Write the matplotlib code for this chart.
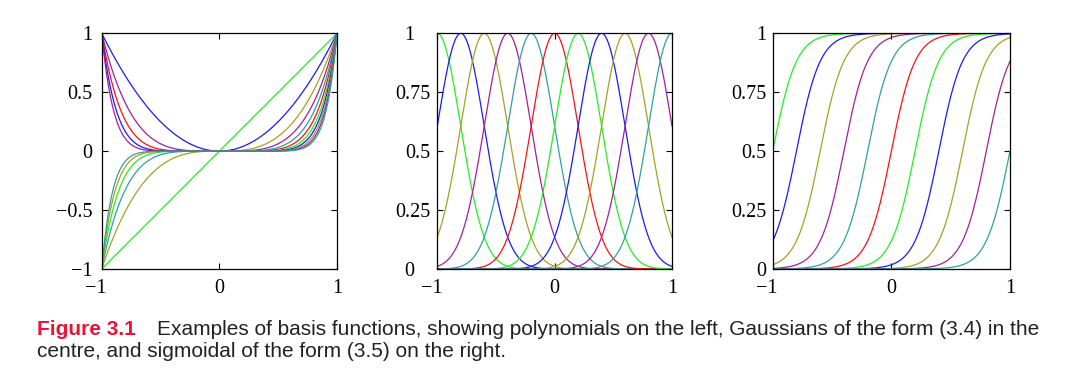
import numpy as np
import matplotlib
matplotlib.use("Agg")
import matplotlib.pyplot as plt
from matplotlib.transforms import ScaledTranslation

# ---- data (basis-function parameters) ----
poly_powers = [1, 2, 3, 4, 5, 6, 7, 8, 9, 10, 11]
gauss_centres = [-1.0, -0.8, -0.6, -0.4, -0.2, 0.0, 0.2, 0.4, 0.6, 0.8, 1.0]
gauss_width = 0.2
sigm_centres = [-1.0, -0.8, -0.6, -0.4, -0.2, 0.0, 0.2, 0.4, 0.6, 0.8, 1.0]
sigm_scale = 0.1

poly_yticks = [-1, -0.5, 0, 0.5, 1]
poly_ylabels = ["\u22121", "\u22120.5", "0", "0.5", "1"]
unit_yticks = [0, 0.25, 0.5, 0.75, 1]
unit_ylabels = ["0", "0.25", "0.5", "0.75", "1"]
xticks = [-1, 0, 1]
xlabels = ["\u22121", "0", "1"]

caption_head = "Figure 3.1"
caption_line1 = "Examples of basis functions, showing polynomials on the left, Gaussians of the form (3.4) in the"
caption_line2 = "centre, and sigmoidal of the form (3.5) on the right."

colours = ["#22ee22", "#1a1aff", "#a8a020", "#a020a0", "#30a0a0", "#ff1010"]

x = np.linspace(-1, 1, 801)

fig = plt.figure(figsize=(10.84, 3.79), dpi=100)
W, H = 1084.0, 379.0

def add_ax(left_px, right_px, top_px=33.3, bottom_px=269.0):
    return fig.add_axes([left_px / W, 1 - bottom_px / H,
                         (right_px - left_px) / W, (bottom_px - top_px) / H])

axes = [add_ax(101.7, 337.0), add_ax(437.3, 672.0), add_ax(772.7, 1010.0)]

for i, p in enumerate(poly_powers):
    axes[0].plot(x, x ** p, color=colours[i % 6], lw=0.9)
for i, c in enumerate(gauss_centres):
    axes[1].plot(x, np.exp(-(x - c) ** 2 / (2 * gauss_width ** 2)), color=colours[i % 6], lw=0.9)
for i, c in enumerate(sigm_centres):
    axes[2].plot(x, 1 / (1 + np.exp(-(x - c) / sigm_scale)), color=colours[i % 6], lw=0.9)

serif = "Liberation Serif"
ypads = [6.5, 5.2, 4.4]  # points
for k, ax in enumerate(axes):
    ax.set_xlim(-1, 1)
    if k == 0:
        ax.set_ylim(-1, 1)
        ax.set_yticks(poly_yticks)
        ax.set_yticklabels(poly_ylabels)
    else:
        ax.set_ylim(0, 1)
        ax.set_yticks(unit_yticks)
        ax.set_yticklabels(unit_ylabels)
    ax.set_xticks(xticks)
    ax.set_xticklabels(xlabels)
    ax.tick_params(direction="in", length=4, width=0.8, top=True, right=True,
                   labelsize=14.5)
    ax.tick_params(axis="x", pad=7.5)
    ax.tick_params(axis="y", pad=ypads[k])
    for lab in ax.get_xticklabels() + ax.get_yticklabels():
        lab.set_fontfamily(serif)
    for sp in ax.spines.values():
        sp.set_linewidth(0.9)
    # in the reference the digit of "-1" sits centred on the tick
    for lab in ax.get_xticklabels():
        if lab.get_text().startswith("\u2212"):
            lab.set_transform(lab.get_transform() + ScaledTranslation(-5.5 / 100, 0, fig.dpi_scale_trans))

# middle panel: "0" and "1" labels stand further from the axis in the reference
for lab in axes[1].get_yticklabels():
    if lab.get_text() in ("0", "1"):
        lab.set_transform(lab.get_transform() + ScaledTranslation(-16 / 100, 0, fig.dpi_scale_trans))

fig.text(37 / W, 1 - 335 / H, caption_head, color="#ee1133", fontsize=15,
         fontweight="bold", family="Liberation Sans", va="baseline")
fig.text(157 / W, 1 - 335 / H, caption_line1, color="#222222", fontsize=15,
         family="Liberation Sans", va="baseline")
fig.text(37 / W, 1 - 357 / H, caption_line2, color="#222222", fontsize=15,
         family="Liberation Sans", va="baseline")

fig.savefig("out.png", dpi=100)
